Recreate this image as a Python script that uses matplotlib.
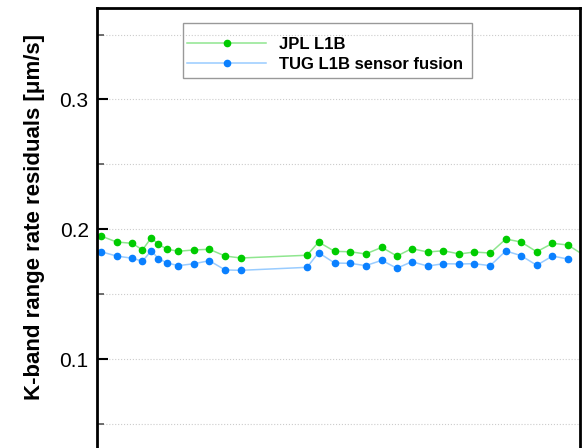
import matplotlib.pyplot as plt
from matplotlib.ticker import MultipleLocator
from matplotlib.patches import Rectangle

# month index of each solution
months_jpl = [0, 1, 2, 2.65, 3.22, 3.67, 4.25, 4.96, 5.96, 6.94, 7.95, 8.96,
              13.2, 13.94, 14.97, 15.96, 16.96, 17.99, 18.96, 19.91, 20.94,
              21.94, 22.96, 23.92, 24.94, 25.94, 26.92, 27.92, 28.93, 29.92, 30.95]
jpl_l1b = [0.1948, 0.1902, 0.1892, 0.1841, 0.1935, 0.1884, 0.1846, 0.1831,
           0.1841, 0.1846, 0.1794, 0.1779, 0.1800, 0.1902, 0.1830, 0.1827,
           0.1810, 0.1861, 0.1794, 0.1851, 0.1825, 0.1835, 0.1810, 0.1825,
           0.1817, 0.1925, 0.1902, 0.1827, 0.1892, 0.1879, 0.1800]

months_tug = months_jpl[:-1]
tug_fusion = [0.1827, 0.1794, 0.1777, 0.1754, 0.1835, 0.1774, 0.1740, 0.1720,
              0.1735, 0.1758, 0.1687, 0.1684, 0.1707, 0.1820, 0.1740, 0.1738,
              0.1720, 0.1761, 0.1700, 0.1750, 0.1717, 0.1735, 0.1733, 0.1735,
              0.1720, 0.1833, 0.1797, 0.1723, 0.1794, 0.1771]

plt.rcParams['font.family'] = ['Liberation Sans', 'DejaVu Sans']

fig = plt.figure(figsize=(5.82, 4.48), dpi=100)
# the original figure is cropped: the x axis lies just below the image
ax = fig.add_axes([0.1667, -0.0089, 0.83, 0.991])

ax.plot(months_jpl, jpl_l1b, '-', color='#8fe68f', lw=1.1,
        marker='o', ms=4.5, mfc='#00cc00', mec='#00cc00', label='JPL L1B')
ax.plot(months_tug, tug_fusion, '-', color='#99ccff', lw=1.1,
        marker='o', ms=4.5, mfc='#0a80ff', mec='#0a80ff', label='TUG L1B sensor fusion')

ax.set_xlim(-0.26, 30.7)
ax.set_ylim(0.0285, 0.3704)
ax.yaxis.set_major_locator(MultipleLocator(0.1))
ax.yaxis.set_minor_locator(MultipleLocator(0.05))
ax.grid(True, which='both', axis='y', ls=':', color='#cccccc', lw=0.8)
ax.tick_params(axis='y', which='major', direction='in', length=8, width=1.5,
               labelsize=15, pad=6)
ax.tick_params(axis='y', which='minor', direction='in', length=5, width=1.2,
               color='#555555')
ax.tick_params(axis='x', bottom=False, labelbottom=False)
for s in ax.spines.values():
    s.set_linewidth(2)

ax.set_ylabel('K-band range rate residuals [\u03bcm/s]', fontsize=16, fontweight='bold')
ax.yaxis.set_label_coords(-0.108, 0.529)

# legend entries without frame, box drawn separately
ax.legend(loc='center left', bbox_to_anchor=(0.1863, 0.8964),
          prop={'weight': 'bold', 'size': 12}, handlelength=4.74,
          handletextpad=0.78, frameon=False, borderpad=0, borderaxespad=0,
          labelspacing=0.3)
ax.add_patch(Rectangle((0.178, 0.8423), 0.5983, 0.1239, transform=ax.transAxes,
                       facecolor='none', edgecolor='#999999', lw=1, zorder=4))

fig.savefig('out.png')
